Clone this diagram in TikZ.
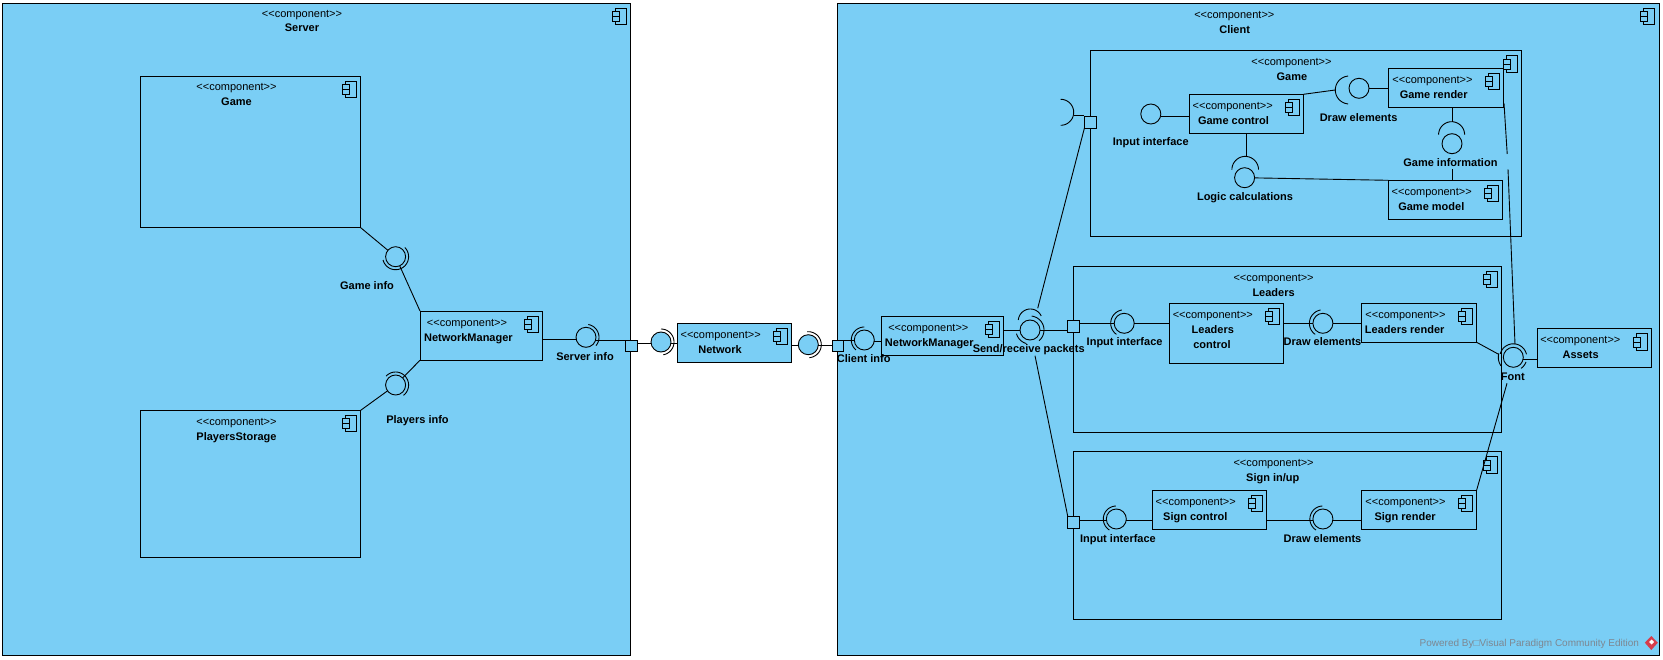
\documentclass[tikz,border=0pt]{standalone}
\usepackage{fontspec}
\setmainfont{Liberation Sans}
\definecolor{compblue}{RGB}{122,206,245}
\definecolor{wmgray}{RGB}{125,135,145}
\definecolor{vpred}{RGB}{214,60,75}
\newcommand{\stereo}{<\kern0pt<component>\kern0pt>}
\tikzset{
  conn/.style={draw=black,line width=0.9bp},
  compbox/.style={draw=black,line width=0.9bp,fill=compblue,rectangle,inner sep=0pt,outer sep=0pt},
  tab/.style={draw=black,line width=0.8bp,fill=compblue},
  ballnode/.style={draw=black,line width=0.9bp,fill=compblue,circle,minimum size=20bp,inner sep=0pt,outer sep=0pt},
  portnode/.style={draw=black,line width=0.9bp,fill=compblue,rectangle,minimum size=11.8bp,inner sep=0pt,outer sep=0pt},
  stype/.style={inner sep=0pt,text height=8bp,text depth=0pt,font=\fontsize{11bp}{13bp}\selectfont},
  cname/.style={inner sep=0pt,text height=8bp,text depth=0pt,font=\fontsize{11bp}{13bp}\selectfont\bfseries},
  wmark/.style={inner sep=0pt,text=wmgray,font=\fontsize{10bp}{12bp}\selectfont},
}
% name, x1, y1, x2, y2 : component box with its icon
\newcommand{\comp}[5]{%
  \pgfmathsetmacro\cw{#4-#2}\pgfmathsetmacro\ch{#5-#3}%
  \node[compbox,minimum width=\cw bp,minimum height=\ch bp] (#1) at ({(#2+#4)/2},{(#3+#5)/2}) {};
  \draw[tab] ({#4-15.5},{#3+5}) rectangle ({#4-4.5},{#3+21.5});
  \draw[tab] ({#4-18.5},{#3+8.5}) rectangle ({#4-11.5},{#3+13.5});
  \draw[tab] ({#4-18.5},{#3+13.5}) rectangle ({#4-11.5},{#3+18.5});
}
\newcommand{\ball}[3]{\node[ballnode] (#1) at (#2,#3) {};}
\newcommand{\port}[3]{\node[portnode] (#1) at (#2,#3) {};}
% centre, radius, from angle, to angle (screen angles)
\newcommand{\sock}[4]{\draw[conn,shift={#1}] plot[domain=#3:#4,samples=30] ({#2*cos(\x)},{-#2*sin(\x)});}
% horizontal connector between two anchors, at height y
\newcommand{\hlink}[3]{\draw[conn] (#1 |- 0,#3) -- (#2 |- 0,#3);}
\begin{document}
\begin{tikzpicture}[x=1bp,y=-1bp]
\useasboundingbox (0,0) rectangle (1663,660);
\fill[white] (0,0) rectangle (1663,660);

% ---------- Server ----------
\comp{server}{2.5}{3}{630.5}{655}
\node[stype] (serverS) at (302,13.5) {\stereo};
\node[cname] (serverN) at (302,28) {Server};
\comp{srvGame}{140.2}{76.3}{360.7}{227.7}
\node[stype] (srvGameS) at (236.5,87) {\stereo};
\node[cname] (srvGameN) at (236.5,102) {Game};
\comp{srvPlay}{140.2}{410.3}{360.7}{557.7}
\node[stype] (srvPlayS) at (236.5,421.3) {\stereo};
\node[cname] (srvPlayN) at (236.5,436.3) {PlayersStorage};
\comp{srvNM}{420}{311}{542.5}{360.3}
\node[stype] (srvNMS) at (467,322) {\stereo};
\node[cname] (srvNMN) at (468.4,337) {NetworkManager};

\ball{gameInfo}{395.6}{256.7}
\sock{(gameInfo)}{13}{195}{405}
\draw[conn] (srvGame.south east) -- (gameInfo);
\draw[conn] (gameInfo) -- (srvNM.north west);
\node[cname] (gameInfoL) at (367,285) {Game info};

\ball{playInfo}{395.6}{385}
\sock{(playInfo)}{13}{-53}{137}
\draw[conn] (srvPlay.north east) -- (playInfo);
\draw[conn] (playInfo) -- (srvNM.south west);
\node[cname] (playInfoL) at (417.5,419.3) {Players info};

\ball{srvInfo}{586}{337.3}
\sock{(srvInfo)}{13}{-40}{80}
\port{srvPort}{631.8}{346}
\hlink{srvNM.east}{srvInfo.west}{339.3}
\hlink{srvInfo.east}{srvPort.west}{340.3}
\node[cname] (srvInfoL) at (585,356) {Server info};

% ---------- Network ----------
\comp{net}{677.3}{323.3}{791.7}{362.3}
\node[stype] (netS) at (720.7,334.3) {\stereo};
\node[cname] (netN) at (720,349) {Network};
\ball{netL}{661}{342}
\sock{(netL)}{13}{-80}{90}
\hlink{srvPort.east}{netL.west}{343.3}
\hlink{netL.east}{net.west}{343.7}
\ball{netR}{808.3}{344.7}
\sock{(netR)}{13}{-85}{95}
\hlink{net.east}{netR.west}{345.3}

% ---------- Client ----------
\comp{client}{837.7}{3.3}{1659}{655}
\node[stype] (clientS) at (1234.3,14.3) {\stereo};
\node[cname] (clientN) at (1234.7,29.3) {Client};
\port{cliPort}{838}{346}
\hlink{netR.east}{cliPort.west}{345.3}
\ball{cliInfo}{864.3}{340}
\sock{(cliInfo)}{13}{90}{230}
\comp{cliNM}{881.7}{316.3}{1003.7}{355.3}
\node[stype] (cliNMS) at (928.3,327.3) {\stereo};
\node[cname] (cliNMN) at (929.3,342) {NetworkManager};
\hlink{cliPort.east}{cliInfo.west}{340.3}
\hlink{cliInfo.east}{cliNM.west}{341.3}
\node[cname] (cliInfoL) at (863.7,358) {Client info};

% ---------- Client / Game ----------
\comp{game}{1090.5}{50.7}{1521.5}{236.3}
\node[stype] (gameS) at (1291.5,61.3) {\stereo};
\node[cname] (gameN) at (1291.9,76.3) {Game};
\comp{gCtrl}{1189.4}{94.3}{1303.4}{133.3}
\node[stype] (gCtrlS) at (1232.7,105.7) {\stereo};
\node[cname] (gCtrlN) at (1233.5,120.3) {Game control};
\comp{gRender}{1388.8}{68.3}{1503.6}{107.3}
\node[stype] (gRenderS) at (1432.5,79.3) {\stereo};
\node[cname] (gRenderN) at (1433.7,94.3) {Game render};
\comp{gModel}{1388.4}{180.3}{1502.5}{219.3}
\node[stype] (gModelS) at (1431.7,191.7) {\stereo};
\node[cname] (gModelN) at (1431.3,206.3) {Game model};

\port{gPort}{1090.3}{122.2}
\sock{(1060.7,112.3)}{13}{-90}{90}
\coordinate (gSockTip) at (1073.6,115);
\draw[conn] (gSockTip) -- (gSockTip -| gPort.west);

\ball{gInput}{1150.8}{114}
\hlink{gInput.east}{gCtrl.west}{116.7}
\node[cname] (gInputL) at (1150.8,141.3) {Input interface};

\ball{gDraw}{1359}{88.3}
\sock{(1349.3,90)}{14}{95}{265}
\coordinate (gDrawTip) at (1335.2,90);
\draw[conn] (gCtrl.north east) -- (gDrawTip);
\hlink{gDraw.east}{gRender.west}{88.7}
\node[cname] (gDrawL) at (1358.6,117.3) {Draw elements};

\ball{gInfo}{1452}{143.7}
\sock{(1451.6,134.7)}{13}{0}{180}
\coordinate (gInfoTip) at (1452,121.7);
\coordinate (gInfoLow) at (1452,169);
\draw[conn] (gInfoTip |- gRender.south) -- (gInfoTip);
\draw[conn] (gInfoLow) -- (gInfoLow |- gModel.north);
\node[cname] (gInfoL) at (1450.4,162.3) {Game information};

\ball{gLogic}{1244.6}{177.7}
\sock{(1245.2,169.7)}{13.3}{0}{180}
\coordinate (gLogicTip) at (1246.4,156);
\draw[conn] (gCtrl.south) -- (gLogicTip);
\draw[conn] (gLogic) -- (gModel.north west);
\node[cname] (gLogicL) at (1245,196) {Logic calculations};

% ---------- Client / Leaders ----------
\comp{lead}{1073.4}{266.3}{1501.7}{432.3}
\node[stype] (leadS) at (1273.6,277.3) {\stereo};
\node[cname] (leadN) at (1273.6,292.3) {Leaders};
\comp{lCtrl}{1169.1}{303.3}{1283.6}{363.7}
\node[stype] (lCtrlS) at (1212.8,314.3) {\stereo};
\node[cname] (lCtrlN) at (1212.8,329.3) {Leaders};
\node[cname] (lCtrlM) at (1212,344.3) {control};
\comp{lRender}{1361.8}{303.3}{1476.6}{342.3}
\node[stype] (lRenderS) at (1405.5,314.3) {\stereo};
\node[cname] (lRenderN) at (1404.7,329.3) {Leaders render};

\port{lPort}{1073.5}{326.5}
\ball{lInput}{1124.2}{323.3}
\sock{(lInput)}{13.5}{100}{235}
\hlink{lPort.east}{lInput.west}{323.3}
\hlink{lInput.east}{lCtrl.west}{323.3}
\node[cname] (lInputL) at (1124.6,341.3) {Input interface};
\ball{lDraw}{1322.9}{323.3}
\sock{(lDraw)}{13.5}{100}{235}
\hlink{lCtrl.east}{lDraw.west}{323.3}
\hlink{lDraw.east}{lRender.west}{323.3}
\node[cname] (lDrawL) at (1322.5,341.3) {Draw elements};

% ---------- Client / Sign in/up ----------
\comp{sign}{1073.4}{451.7}{1501.7}{619.3}
\node[stype] (signS) at (1273.6,462.3) {\stereo};
\node[cname] (signN) at (1272.8,477.3) {Sign in/up};
\comp{sCtrl}{1152.4}{490.3}{1266.9}{529.3}
\node[stype] (sCtrlS) at (1195.7,501.7) {\stereo};
\node[cname] (sCtrlN) at (1195.3,516.3) {Sign control};
\comp{sRender}{1361.8}{490.3}{1476.6}{529.3}
\node[stype] (sRenderS) at (1405.5,501.7) {\stereo};
\node[cname] (sRenderN) at (1405.1,516.3) {Sign render};

\port{sPort}{1073.7}{522.5}
\ball{sInput}{1116.3}{519}
\sock{(sInput)}{13}{92}{238}
\hlink{sPort.east}{sInput.west}{520.3}
\hlink{sInput.east}{sCtrl.west}{520.3}
\node[cname] (sInputL) at (1117.9,538.3) {Input interface};
\ball{sDraw}{1322.9}{519}
\sock{(sDraw)}{13}{92}{238}
\hlink{sCtrl.east}{sDraw.west}{520.3}
\hlink{sDraw.east}{sRender.west}{520.3}
\node[cname] (sDrawL) at (1322.5,538.3) {Draw elements};

% ---------- Send / receive ----------
\ball{sendBall}{1030}{330}
\sock{(1030.3,321)}{12}{25}{175}
\sock{(sendBall)}{14}{-50}{83}
\sock{(sendBall)}{14}{195}{255}
\hlink{cliNM.east}{sendBall.west}{330}
\hlink{sendBall.east}{lPort.west}{330.7}
\coordinate (sendTop) at (1037.7,308.3);
\coordinate (sendBot) at (1035,355.7);
\draw[conn] (gPort.south west) -- (sendTop);
\draw[conn] (sendBot) -- (sPort.north west);
\node[cname] (sendL) at (1028.7,348) {Send/receive packets};

% ---------- Assets / Font ----------
\comp{assets}{1537.4}{328.7}{1651.4}{367.3}
\node[stype] (assetsS) at (1580.3,339.3) {\stereo};
\node[cname] (assetsN) at (1580.7,354.3) {Assets};
\ball{fontBall}{1513.3}{357.3}
\sock{(fontBall)}{13.5}{13}{165}
\sock{(fontBall)}{15}{165}{215}
\sock{(fontBall)}{13.5}{-55}{-20}
\hlink{fontBall.east}{assets.west}{359}
\node[cname] (fontL) at (1512.8,376.3) {Font};
\coordinate (fA) at (1504,103.3);
\coordinate (fB) at (1507.2,154);
\coordinate (fC) at (1508,169.3);
\coordinate (fD) at (1515,344.3);
\coordinate (fE) at (1498.6,354.3);
\coordinate (fF) at (1507,383.3);
\draw[conn] (fA) -- (fB);
\draw[conn] (fC) -- (fD);
\draw[conn] (lRender.south east) -- (fE);
\draw[conn] (sRender.north east) -- (fF);

% ---------- Watermark ----------
\node[wmark] (wm) at (1529.3,644) {Powered By□Visual Paradigm Community Edition};
\fill[vpred] (1651.3,636) -- (1657.8,642.7) -- (1651.3,650) -- (1644.8,642.7) -- cycle;
\fill[white] (1651.5,639.5) -- (1654,642) -- (1651.5,644.5) -- (1649,642) -- cycle;
\end{tikzpicture}
\end{document}
